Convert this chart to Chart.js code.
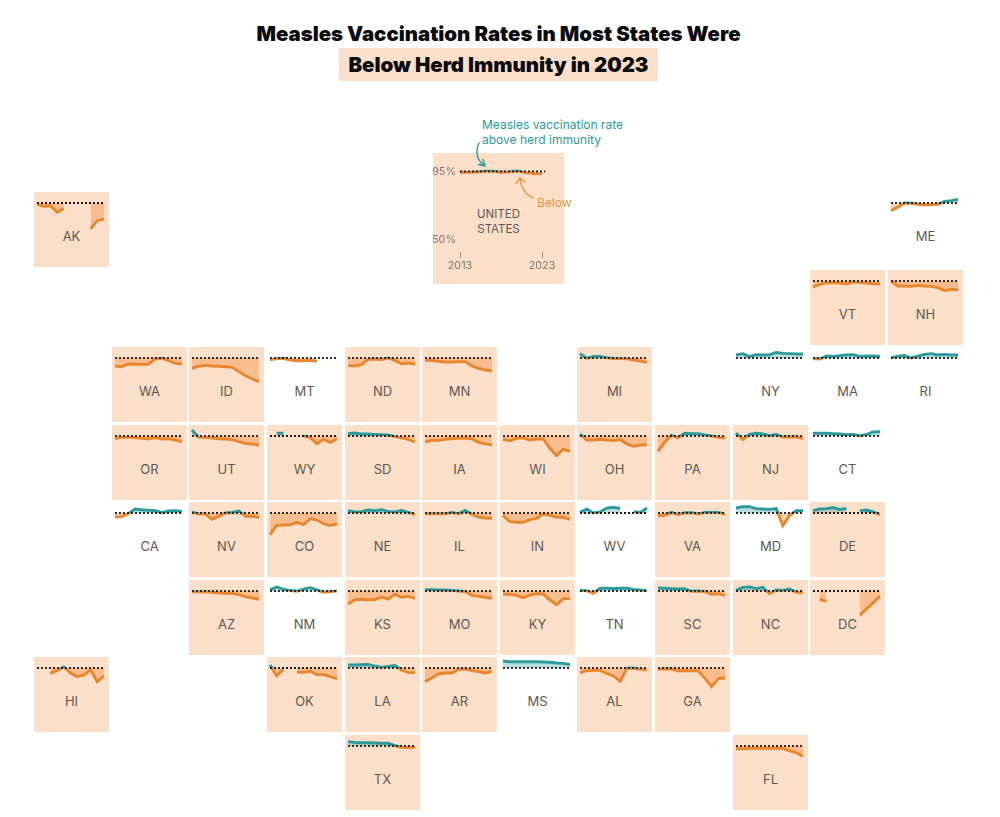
<!DOCTYPE html>
<html>
<head>
<meta charset="utf-8">
<title>Measles Vaccination Rates</title>
<script src="https://cdn.jsdelivr.net/npm/chart.js@4"></script>
<style>
  html, body { margin: 0; padding: 0; background: #fff; }
  body { position: relative; width: 1000px; height: 817px; overflow: hidden; font-family: Inter, sans-serif; }
  .title { position: absolute; left: 0; width: 997px; text-align: center; font-weight: 900; font-size: 20.4px; line-height: 33px; color: #0b0b0b; }
  .title span { display: inline-block; background: #fcdfc9; padding: 0 9px; }
  .tile { position: absolute; width: 75px; height: 75px; }
  .tile.below { background: #fcdfc9; }
  .tile canvas { position: absolute; left: 0; top: 0; }
  .tile .name { position: absolute; left: 0; width: 100%; top: 36px; text-align: center; font-size: 13px; line-height: 16px; color: #5d5853; }
  #us { width: 131px; height: 131px; left: 433px; top: 153px; }
  #us .name { top: 54px; line-height: 14.5px; font-size: 11.5px; }
  .note { position: absolute; font-size: 12px; line-height: 14.5px; }
  svg { position: absolute; left: 0; top: 0; pointer-events: none; }
</style>
</head>
<body>
<div class="title" style="top:17px">Measles Vaccination Rates in Most States Were</div>
<div class="title" style="top:48px"><span>Below Herd Immunity in 2023</span></div>
<div id="map"></div>
<div class="note" style="left:482px;top:118px;color:#2b9a98">Measles vaccination rate<br>above herd immunity</div>
<div class="note" style="left:537px;top:196px;color:#e2953f">Below</div>
<svg width="1000" height="817" fill="none" stroke-width="1.4" stroke-linecap="round" stroke-linejoin="round">
  <path d="M479 143 C475 152 477 161 485 166 M478.5 164.5 L485 166 L483 159.5" stroke="#2b9a98"/>
  <path d="M533 198 C526 195 521 188 520 178 M516 183.5 L520 178 L525 182" stroke="#e2953f"/>
</svg>

<script>
const years = [2013, 2014, 2015, 2016, 2017, 2018, 2019, 2020, 2021, 2022, 2023];
const herdImmunity = 95;

const US = [94.5, 94.4, 94.6, 95.2, 95.2, 94.5, 94.7, 95.3, 94.2, 93.6, 93.4];

const AK = [94.3, 92.8, 93.2, 88.8, 91.4, null, null, null, 77.7, 83.2, 84.3];
const ME = [89.9, 92.1, 95, 94.8, 94.1, 93.7, 93.9, 94.1, 96.1, 96.6, 97.4];
const VT = [91, 92.8, 93.7, 93.9, 93.7, 93, 94.3, 93.9, 93.7, 93.2, 93];
const NH = [95, 91.7, 91.7, 91.4, 92.1, 91.7, 91.4, 90.6, 88.6, 89.5, 89.2];
const WA = [89.7, 89.2, 91, 90.8, 90.8, 91, 94.3, 94.8, 93.2, 91.4, 91.2];
const ID = [88.1, 89.5, 90.1, 89.7, 89.5, 89.2, 88.8, 85.9, 83.2, 81, 79.2];
const MT = [93.9, 94.4, 94.8, 93.7, 93.2, 93.2, 93.4, 92.8, null, null, null];
const ND = [89.9, 89.7, 90.6, 94.1, 94.3, 93.9, 95, 93.4, 91.2, 91.7, 90.8];
const MN = [93.4, 93.4, 92.8, 92.3, 92.3, 92.6, 92.6, 89.7, 88.1, 87, 86.3];
const MI = [97.9, 94.8, 96.1, 96.1, 95.2, 94.7, 94.6, 94.4, 93.7, 93, 92.1];
const NY = [97, 97.9, 95.9, 97.2, 97, 97.2, 98.6, 98.1, 97.9, 97.7, 97.7];
const MA = [94.6, 94.3, 96.3, 96.1, 96.6, 97, 97.2, 96.1, 96.3, 96.3, 96.1];
const RI = [95.2, 96.1, 96.6, 95, 96.3, 97.4, 97.9, 97, 97.4, 97, 97];
const OR = [93.2, 94.1, 94.1, 93.9, 93.4, 93.2, 93.9, 93, 93.2, 92.3, 91.2];
const UT = [99, 94.1, 94.1, 93.7, 93.2, 93, 92.6, 91.2, 89.9, 89.7, 88.8];
const WY = [null, 96.8, 96.8, null, null, 95, 93.9, 89.9, 92.8, 90.6, 93.2];
const SD = [96.6, 97, 96.3, 96.3, 96.1, 95.9, 95.7, 94.6, 93.7, 92.8, 91];
const IA = [91, 92.1, 92.1, 92.8, 93.2, 93.4, 93.4, 93.2, 90.8, 89.7, 89];
const WI = [92.8, 91.9, 93.4, 93.7, 92.3, 93, 93, 86.8, 81.9, 86.3, 84.8];
const OH = [96.3, 92.3, 92.3, 92.8, 92.3, 91.9, 92.6, 89.7, 88.1, 89, 89.2];
const PA = [84.8, 90.8, 95.4, 93.7, 96.8, 96.6, 96.6, 95.7, 95, 94.1, 93.7];
const NJ = [97, 92.6, 96.1, 96.8, 96.3, 95.2, 96.1, 94.3, 94.3, 94.3, 93.4];
const CT = [96.8, 96.8, 96.8, 96.6, 96.3, 95.9, 96.1, 95.2, 96.1, 97.7, 97.9];
const CA = [92.3, 92.6, 94.6, 97.7, 97.2, 96.8, 96.6, 95.2, 96.3, 96.6, 96.1];
const NV = [95.7, 94.3, 94.3, 90.8, 92.8, 95, 95.4, 96.3, 92.8, 93, 91.9];
const CO = [80.6, 86.8, 87, 87.2, 88.8, 87.2, 91.2, 90.3, 87.9, 86.6, 87.9];
const NE = [96.6, 95.7, 95.9, 97, 96.6, 97.2, 96.1, 95.7, 96.6, 95.4, 93.9];
const IL = [94.4, 94.4, 94.4, 94.4, 95.4, 94.4, 96.8, 94.1, 92.3, 91.7, 91.4];
const IN = [93.4, 89.2, 88.8, 88.8, 90.6, 91.4, 94.3, 93.4, 92.3, 92.1, 90.8];
const WV = [95.4, 97.6, 95, 95.7, 98.3, 98.8, 98.1, null, 95.9, 95.4, 98.3];
const VA = [93.2, 93.4, 95.4, 93.9, 95.2, 95.2, 94.3, 95.4, 95.4, 95.4, 94.1];
const MD = [98.3, 99.2, 99.2, 97.9, 97.7, 97.4, 97.9, 86.6, 93.4, 96.6, 96.6];
const DE = [96.6, 97.7, 97.9, 98.6, 97.4, 98.1, null, 96.6, 97, 95.7, 93.7];
const AZ = [94.4, 94.4, 94.4, 94.2, 93.7, 93.4, 93.4, 92.6, 91.2, 90.3, 89.5];
const NM = [95.7, 97.7, 96.1, 95.4, 94.8, 96.3, 97.2, 95.7, 94.1, 94.6, 95];
const KS = [86.3, 89, 89.5, 89.2, 89.2, 91, 89.7, 92.8, 90.8, 91.4, 90.1];
const MO = [95.9, 95.9, 95.7, 95.7, 95.4, 95, 94.6, 92.1, 91.4, 90.8, 90.1];
const KY = [92.8, 92.8, 92.1, 90.6, 92.3, 93.2, 93, 89, 85.9, 89.9, 89.9];
const TN = [95.4, 95.2, 93.4, 96.8, 96.8, 96.6, 96.8, 96.8, 96.1, 95.7, 95.2];
const SC = [97, 96.8, 96.6, 96.3, 96.6, 94.8, 95, 94.6, 92.8, 93.2, 92.1];
const NC = [95.4, 97.4, 97.7, 96.6, 97.4, 93.2, 95.7, 95.4, 96.3, 94.1, 93.9];
const DC = [null, 89.5, 88.1, null, null, null, null, 78.8, 83.2, 87.2, 91.7];
const HI = [null, null, 91.4, 93.4, 95.7, 91.7, 89.2, 90.3, 93.9, 85.9, 89.7];
const OK = [97, 89.9, 94.1, null, 92.3, 92.1, 92.8, 90.6, 90.6, 89.2, 87.9];
const LA = [97, 97, 97.2, 97.4, 96.3, 95.4, 96.1, 96.6, 93.7, 91.9, 91.9];
const AR = [85.9, 88.3, 91, 91.7, 91.7, 94.1, 94.3, 93.2, 92.6, 91.7, 92.6];
const MS = [99.7, 99.2, 99.2, 99.2, 99.2, 99.2, 99, 98.8, 98.3, 98.1, 97.2];
const AL = [91.9, 93.2, 93.4, 93.4, 91.4, 89.7, 86.1, 94.8, 94.8, 94.1, 93.7];
const GA = [94.1, 94.3, 94.3, 93.2, 93.2, 93.2, 93.2, 88.1, 82.6, 87.9, 88.3];
const TX = [97.9, 97.4, 97.2, 97.2, 97, 96.8, 96.8, 95.2, 94.1, 93.9, 94.1];
const FL = [93.2, 93.2, 93.4, 93.4, 93.4, 93.4, 93.4, 93.4, 91.7, 90.6, 88.1];

// tile map rows, one entry per column, empty string = no state
const mapRows = [
    ['AK', '', '', '', '', '', '', '', '', '', '', 'ME'],
    ['', '', '', '', '', '', '', '', '', '', 'VT', 'NH'],
    ['', 'WA', 'ID', 'MT', 'ND', 'MN', '', 'MI', '', 'NY', 'MA', 'RI'],
    ['', 'OR', 'UT', 'WY', 'SD', 'IA', 'WI', 'OH', 'PA', 'NJ', 'CT', ''],
    ['', 'CA', 'NV', 'CO', 'NE', 'IL', 'IN', 'WV', 'VA', 'MD', 'DE', ''],
    ['', '', 'AZ', 'NM', 'KS', 'MO', 'KY', 'TN', 'SC', 'NC', 'DC', ''],
    ['HI', '', '', 'OK', 'LA', 'AR', 'MS', 'AL', 'GA', '', '', ''],
    ['', '', '', '', 'TX', '', '', '', '', 'FL', '', '']
];

const stateValues = {
    AK, ME, VT, NH, WA, ID, MT, ND, MN, MI, NY, MA, RI, OR, UT, WY, SD, IA, WI, OH, PA, NJ, CT,
    CA, NV, CO, NE, IL, IN, WV, VA, MD, DE, AZ, NM, KS, MO, KY, TN, SC, NC, DC, HI, OK, LA, AR,
    MS, AL, GA, TX, FL
};

const TEAL = '#2a9b9a';
const ORANGE = '#e8862c';

Chart.defaults.animation = false;
Chart.defaults.font.family = 'Inter, sans-serif';

// hard colour stop at 95% so the line changes colour where it crosses the threshold
function lineColor(ctx) {
    const { chart } = ctx;
    const { chartArea, scales } = chart;
    if (!chartArea) return ORANGE;
    const stop = (scales.y.getPixelForValue(herdImmunity) - chartArea.top) / (chartArea.bottom - chartArea.top);
    const gradient = chart.ctx.createLinearGradient(0, chartArea.top, 0, chartArea.bottom);
    gradient.addColorStop(0, TEAL);
    gradient.addColorStop(stop, TEAL);
    gradient.addColorStop(stop, ORANGE);
    gradient.addColorStop(1, ORANGE);
    return gradient;
}

function buildDatasets(values, thresholdEnd) {
    return [
        {
            data: [{ x: years[0], y: herdImmunity }, { x: thresholdEnd, y: herdImmunity }],
            borderColor: '#1d1a18',
            borderWidth: 1.8,
            borderDash: [2, 2],
            pointRadius: 0,
            clip: false,
            order: 0
        },
        {
            data: values.map((v, i) => ({ x: years[i], y: v })),
            borderColor: lineColor,
            borderWidth: 2.9,
            borderJoinStyle: 'miter',
            pointRadius: 0,
            tension: 0,
            clip: false,
            fill: {
                target: { value: herdImmunity },
                above: 'rgba(42,155,154,0.32)',
                below: 'rgba(240,130,40,0.36)'
            },
            order: 1
        }
    ];
}

function addCanvas(tile, width, height) {
    const canvas = document.createElement('canvas');
    canvas.width = width;
    canvas.height = height;
    canvas.style.width = width + 'px';
    canvas.style.height = height + 'px';
    tile.appendChild(canvas);
    return canvas;
}

function drawStateTile(state, col, row) {
    const values = stateValues[state];
    const tile = document.createElement('div');
    tile.className = 'tile' + (values[values.length - 1] !== null && values[values.length - 1] < herdImmunity ? ' below' : '');
    tile.style.left = Math.round(34 + col * 77.64) + 'px';
    tile.style.top = Math.round(192 + row * 77.5) + 'px';
    const name = document.createElement('div');
    name.className = 'name';
    name.textContent = state;
    tile.appendChild(name);
    document.getElementById('map').appendChild(tile);

    new Chart(addCanvas(tile, 75, 75), {
        type: 'line',
        data: { datasets: buildDatasets(values, years[years.length - 1]) },
        options: {
            responsive: false,
            layout: { padding: { left: 3, right: 5, top: 0, bottom: 0 } },
            plugins: { legend: { display: false }, tooltip: { enabled: false } },
            scales: {
                x: { type: 'linear', display: false, min: 2013, max: 2023 },
                y: { display: false, min: 52.33, max: 102.33 }
            }
        }
    });
}

function drawUsTile() {
    const tile = document.createElement('div');
    tile.className = 'tile below';
    tile.id = 'us';
    tile.innerHTML = '<div class="name">UNITED<br>STATES</div>';
    document.getElementById('map').appendChild(tile);

    new Chart(addCanvas(tile, 131, 131), {
        type: 'line',
        data: { datasets: buildDatasets(US, 2023.4) },
        options: {
            responsive: false,
            layout: { padding: { left: 0, right: 22, top: 0, bottom: 0 } },
            plugins: { legend: { display: false }, tooltip: { enabled: false } },
            scales: {
                x: {
                    type: 'linear',
                    min: 2013,
                    max: 2023,
                    border: { display: false },
                    grid: { drawOnChartArea: false, drawTicks: true, tickLength: 6, color: '#9a948d' },
                    afterBuildTicks: s => { s.ticks = [{ value: 2013 }, { value: 2023 }]; },
                    afterFit: s => { s.height = 32; },
                    ticks: {
                        autoSkip: false,
                        maxRotation: 0,
                        padding: 1,
                        color: '#7e7872',
                        font: { size: 10.8 },
                        callback: v => String(v)
                    }
                },
                y: {
                    min: 42.2,
                    max: 107.1,
                    border: { display: false },
                    grid: { display: false, drawTicks: false },
                    afterBuildTicks: s => { s.ticks = [{ value: 95 }, { value: 50 }]; },
                    afterFit: s => {
                        s.width = 27;
                        s.paddingTop = 0;
                        s.paddingBottom = 0;
                    },
                    ticks: {
                        padding: 4,
                        color: '#7e7872',
                        font: { size: 10.8 },
                        callback: v => v + '%'
                    }
                }
            }
        }
    });
}

mapRows.forEach((cols, row) => {
    cols.forEach((state, col) => {
        if (state) drawStateTile(state, col, row);
    });
});
drawUsTile();
</script>
</body>
</html>
